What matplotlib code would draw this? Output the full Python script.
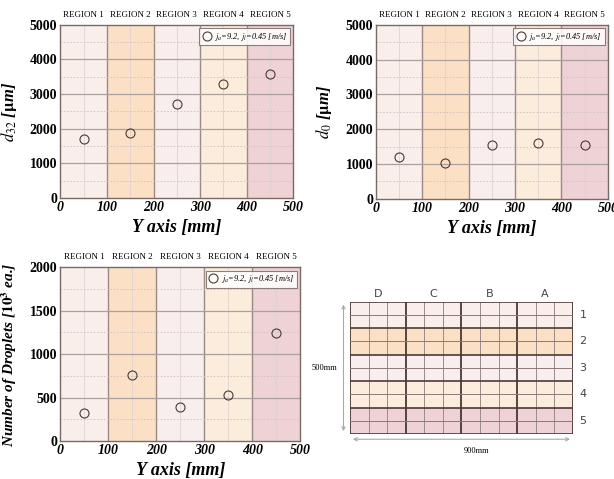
import numpy as np
import matplotlib.pyplot as plt
from matplotlib.patches import FancyArrowPatch
from matplotlib.colors import ListedColormap

# data
y_pos = [50, 150, 250, 350, 450]
d32 = [1700, 1880, 2700, 3280, 3580]
d0 = [1200, 1020, 1560, 1610, 1560]
n_drop = [320, 760, 390, 535, 1240]

regions = ["REGION 1", "REGION 2", "REGION 3", "REGION 4", "REGION 5"]
region_colors = ["#f9eeea", "#fbe0c6", "#f9eeee", "#fcecdb", "#eed2d6"]
legend_label = r"$j_a$=9.2, $j_l$=0.45 [m/s]"

col_labels = ["D", "C", "B", "A"]
row_labels = ["1", "2", "3", "4", "5"]

plt.rcParams['font.family'] = ['Liberation Serif', 'DejaVu Serif']
plt.rcParams['mathtext.fontset'] = 'stix'

fig = plt.figure(figsize=(6.14, 4.79), dpi=100)


def panel(rect, values, ylabel, ymax, ystep, ylab_size=12):
    ax = fig.add_axes(rect)
    for i, c in enumerate(region_colors):
        ax.axvspan(i * 100, (i + 1) * 100, color=c, lw=0, zorder=0)
    for x in range(100, 500, 100):
        ax.axvline(x, color="#9a8a84", lw=1.0, zorder=1)
    for x in range(50, 500, 100):
        ax.axvline(x, color="#ddd3d0", lw=0.6, zorder=1)
    for yv in np.arange(ystep, ymax, ystep):
        ax.axhline(yv, color="#aaa09e", lw=0.9, zorder=1)
    for yv in np.arange(ystep / 2, ymax, ystep):
        ax.axhline(yv, color="#cdc2c0", lw=0.6, ls=(0, (2, 2)), zorder=1)
    ax.plot(y_pos, values, "o", mfc="none", mec="#4a3a38", mew=0.8, ms=6.5,
            label=legend_label, zorder=3)
    ax.set_xlim(0, 500)
    ax.set_ylim(0, ymax)
    ax.set_xticks(range(0, 501, 100))
    ax.set_yticks(np.arange(0, ymax + 1, ystep))
    ax.tick_params(length=0, pad=2)
    for t in ax.get_xticklabels():
        t.set_fontweight("bold")
        t.set_fontstyle("italic")
        t.set_fontsize(10)
    for t in ax.get_yticklabels():
        t.set_fontweight("bold")
        t.set_fontsize(10)
    for s in ax.spines.values():
        s.set_color("#7a6a66")
        s.set_linewidth(1.0)
    ax.set_xlabel("Y axis [mm]", fontsize=13, fontweight="bold", style="italic", labelpad=4)
    ax.set_ylabel(ylabel, fontsize=ylab_size, fontweight="bold", style="italic", labelpad=8)
    for i, r in enumerate(regions):
        ax.text(i * 100 + 50, ymax * 1.035, r, ha="center", va="bottom", fontsize=6.5)
    leg = ax.legend(loc="upper right", handletextpad=0.3, borderpad=0.3,
                    fancybox=False, framealpha=0.85, edgecolor="#7a6a66",
                    borderaxespad=0.4, handlelength=1.2,
                    prop={'style': 'italic', 'size': 6})
    leg.get_frame().set_linewidth(0.8)
    return ax


panel([0.098, 0.587, 0.380, 0.361], d32, r"$\boldsymbol{d_{32}}$ [$\mathbf{\mu}$m]", 5000, 1000)
panel([0.612, 0.585, 0.378, 0.363], d0, r"$\boldsymbol{d_{0}}$ [$\mathbf{\mu}$m]", 5000, 1000)
panel([0.098, 0.079, 0.391, 0.363], n_drop, r"Number of Droplets [$\mathbf{10^3}$ ea.]", 2000, 500, 11)

# test section diagram
ax4 = fig.add_axes([0.570, 0.094, 0.363, 0.276])
n_cols, n_rows = 12, 10
grid = np.array([[i // 2 for _ in range(n_cols)] for i in range(n_rows)])
ax4.pcolormesh(np.arange(n_cols + 1), np.arange(n_rows + 1), grid,
               cmap=ListedColormap(region_colors), vmin=-0.5, vmax=4.5)
for x in range(n_cols + 1):
    thick = x % 3 == 0
    ax4.plot([x, x], [0, n_rows], color="#3a2a28" if thick else "#9a8a88",
             lw=1.2 if thick else 0.7)
for y in range(n_rows + 1):
    thick = y % 2 == 0
    ax4.plot([0, n_cols], [y, y], color="#4a3a38" if thick else "#8a7a78",
             lw=1.2 if thick else 0.7)
ax4.set_xlim(0, n_cols)
ax4.set_ylim(n_rows, 0)
ax4.axis("off")
for i, c in enumerate(col_labels):
    ax4.text(i * 3 + 1.5, -0.2, c, ha="center", va="bottom", fontsize=8,
             family="DejaVu Sans", color="#444444", clip_on=False)
for i, r in enumerate(row_labels):
    ax4.text(n_cols + 0.35, i * 2 + 1, r, ha="left", va="center", fontsize=8,
             family="DejaVu Sans", color="#444444", clip_on=False)
ax4.add_patch(FancyArrowPatch((-0.35, 0), (-0.35, n_rows), arrowstyle="<->",
                              mutation_scale=6, color="#aaaaaa", lw=0.8, clip_on=False))
ax4.add_patch(FancyArrowPatch((0, n_rows + 0.4), (n_cols, n_rows + 0.4), arrowstyle="<->",
                              mutation_scale=6, color="#aaaaaa", lw=0.8, clip_on=False))
ax4.text(-0.7, n_rows / 2, "500mm", ha="right", va="center", fontsize=6, clip_on=False)
ax4.text(n_cols / 2 + 0.8, n_rows + 1.0, "900mm", ha="center", va="top", fontsize=6, clip_on=False)

fig.savefig("out.png", dpi=100)
